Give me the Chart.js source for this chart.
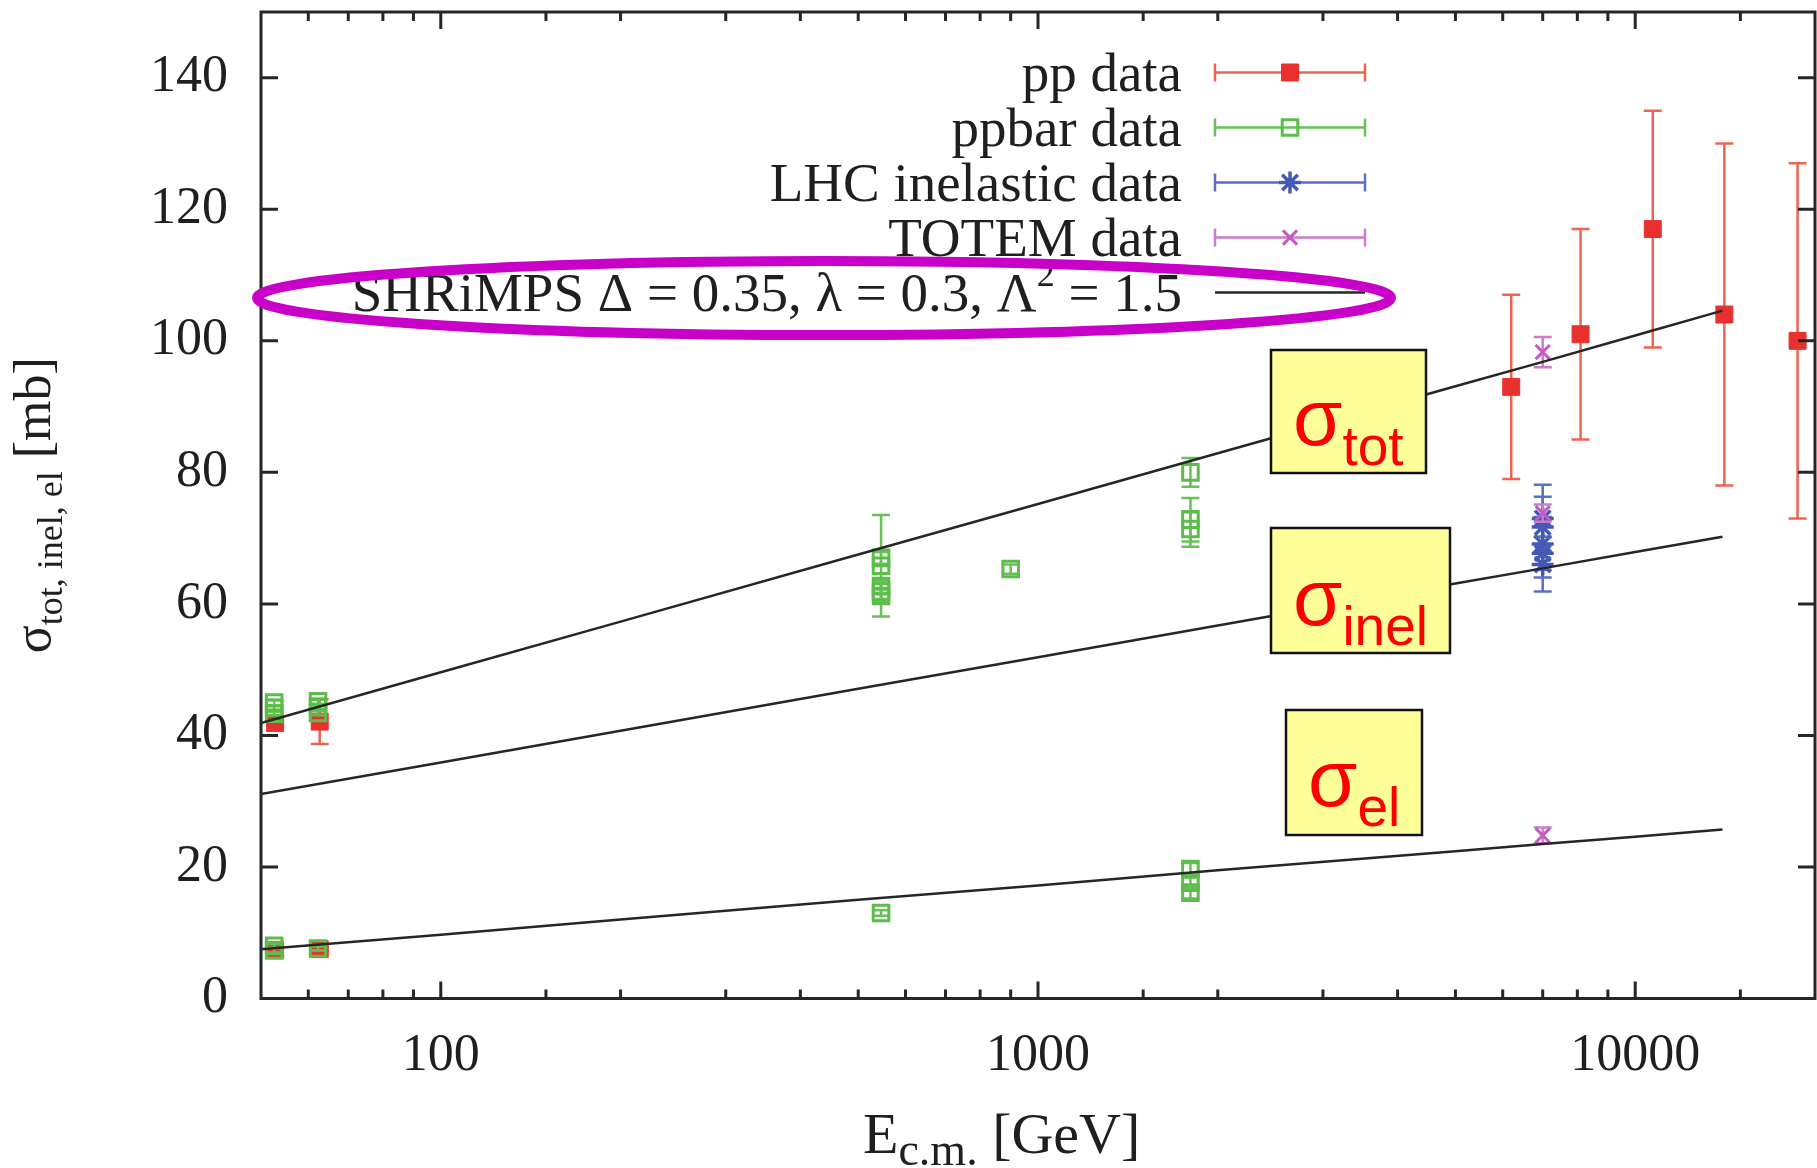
<!DOCTYPE html>
<html>
<head>
<meta charset="utf-8">
<title>SHRiMPS cross sections</title>
<script src="https://cdn.jsdelivr.net/npm/chart.js@4.4.1/dist/chart.umd.min.js"></script>
<style>
  html, body { margin: 0; padding: 0; background: #ffffff; }
  canvas { display: block; }
</style>
</head>
<body>
<canvas id="xsec" width="1817" height="1168"></canvas>
<script>
// ---- pp data: E_cm [GeV], cross section [mb], symmetric error [mb] ----
const ppEnergy = [52.8, 62.7, 52.8, 62.7, 6200, 8100, 10700, 14100, 18700];
const ppSigma  = [41.9, 42.1, 7.4, 7.5, 93, 101, 117, 104, 100];
const ppError  = [0.4, 3.4, 0.3, 0.3, 14, 16, 18, 26, 27];

// ---- ppbar data ----
const ppbarEnergy = [52.6, 52.6, 52.6, 62.3, 62.3, 62.3, 52.6, 52.6, 62.3,
                     546, 546, 546, 546, 546, 546, 900,
                     1800, 1800, 1800, 1800, 1800, 1800];
const ppbarSigma  = [45.0, 44.2, 43.3, 45.2, 44.3, 43.4, 8.0, 7.3, 7.6,
                     67.0, 65.8, 62.7, 61.9, 61.2, 13.0, 65.3,
                     80.0, 72.8, 71.4, 19.7, 17.6, 16.1];
const ppbarError  = [0.4, 0.3, 0.3, 0.4, 0.3, 0.3, 0.3, 0.3, 0.3,
                     0.9, 7.7, 1.0, 1.5, 1.0, 0.4, 0.7,
                     2.2, 3.3, 2.7, 0.9, 0.8, 0.9];

// ---- LHC inelastic data (7 TeV) ----
const lhcEnergy = [7000, 7000, 7000, 7000, 7000];
const lhcSigma  = [73.0, 71.7, 69.1, 67.7, 66.0];
const lhcError  = [5.1, 1.5, 7.2, 2.5, 2.0];

// ---- TOTEM data (7 TeV): total, inelastic, elastic ----
const totemEnergy = [7000, 7000, 7000];
const totemSigma  = [98.3, 73.8, 24.8];
const totemError  = [2.3, 1.3, 1.2];

// ---- SHRiMPS model curves ----
const modelEnergy = [50, 100, 200, 500, 1000, 2000, 5000, 7000, 10000, 14000];
const modelTot    = [41.9, 49.6, 57.3, 67.5, 75.2, 82.9, 93.1, 96.8, 100.8, 104.6];
const modelInel   = [31.1, 35.9, 40.7, 47.1, 51.9, 56.7, 63.1, 65.4, 67.9, 70.2];
const modelEl     = [7.5, 9.7, 12.0, 15.0, 17.2, 19.5, 22.4, 23.5, 24.6, 25.7];

// ---- axes ----
const yTickValues  = [0, 20, 40, 60, 80, 100, 120, 140];
const xTickLabels  = [100, 1000, 10000];

const legendOrder = ['pp data', 'ppbar data', 'LHC inelastic data', 'TOTEM data',
                     'SHRiMPS Δ = 0.35, λ = 0.3, Λ² = 1.5'];

const SERIF = '"Liberation Serif", "Times New Roman", serif';
const SANS  = '"Liberation Sans", Arial, sans-serif';
const INK   = '#1f1f1f';

const pts = (xs, ys) => xs.map((x, i) => ({ x: x, y: ys[i] }));

// vertical error bars with caps, drawn under each dataset's markers
const errorBars = {
  id: 'errorBars',
  beforeDatasetDraw(chart, args) {
    const ds = chart.data.datasets[args.index];
    if (!ds.errors) return;
    const xs = chart.scales.x, ys = chart.scales.y, ctx = chart.ctx;
    const cap = 9;
    ctx.save();
    ctx.strokeStyle = ds.errorColor;
    ctx.lineWidth = 2.5;
    ds.data.forEach((p, i) => {
      const e = ds.errors[i];
      const px = xs.getPixelForValue(p.x);
      const lo = ys.getPixelForValue(p.y - e);
      const hi = ys.getPixelForValue(p.y + e);
      ctx.beginPath();
      ctx.moveTo(px, lo); ctx.lineTo(px, hi);
      ctx.moveTo(px - cap, lo); ctx.lineTo(px + cap, lo);
      ctx.moveTo(px - cap, hi); ctx.lineTo(px + cap, hi);
      ctx.stroke();
    });
    ctx.restore();
  }
};

// draws a run of text pieces with individual sizes and vertical shifts
function richWidth(ctx, parts, family) {
  let w = 0;
  parts.forEach(p => { ctx.font = p.size + 'px ' + family; w += ctx.measureText(p.t).width; });
  return w;
}
function drawRich(ctx, parts, x, y, family, align) {
  const w = richWidth(ctx, parts, family);
  let cx = align === 'right' ? x - w : (align === 'center' ? x - w / 2 : x);
  ctx.textAlign = 'left';
  ctx.textBaseline = 'alphabetic';
  parts.forEach(p => {
    ctx.font = p.size + 'px ' + family;
    ctx.fillText(p.t, cx, y + (p.dy || 0));
    cx += ctx.measureText(p.t).width;
  });
}
function labelParts(label) {
  const i = label.indexOf('²');
  if (i < 0) return [{ t: label, size: 55 }];
  return [{ t: label.slice(0, i), size: 55 },
          { t: '2', size: 36, dy: -25 },
          { t: label.slice(i + 1), size: 55 }];
}

function drawMarker(ctx, ds, x, y) {
  const opts = { pointStyle: ds.pointStyle, radius: ds.pointRadius, borderWidth: ds.borderWidth, rotation: 0 };
  ctx.save();
  ctx.fillStyle = ds.backgroundColor;
  ctx.strokeStyle = ds.borderColor;
  ctx.lineWidth = ds.borderWidth;
  Chart.helpers.drawPoint(ctx, opts, x, y);
  ctx.restore();
}

// frame, inward ticks, legend, axis titles and the highlighted annotations
const decorations = {
  id: 'decorations',
  afterDraw(chart) {
    const ctx = chart.ctx, a = chart.chartArea;
    const xs = chart.scales.x, ys = chart.scales.y;

    // frame
    ctx.save();
    ctx.strokeStyle = '#262626';
    ctx.lineWidth = 3;
    ctx.strokeRect(a.left, a.top, a.right - a.left, a.bottom - a.top);

    // inward tick marks on all four sides
    ctx.beginPath();
    xs.ticks.forEach(t => {
      const px = xs.getPixelForValue(t.value);
      if (px <= a.left + 1 || px >= a.right - 1) return;
      const lg = Math.log10(t.value);
      const len = Math.abs(lg - Math.round(lg)) < 1e-9 ? 17 : 9;
      ctx.moveTo(px, a.bottom); ctx.lineTo(px, a.bottom - len);
      ctx.moveTo(px, a.top); ctx.lineTo(px, a.top + len);
    });
    ys.ticks.forEach(t => {
      const py = ys.getPixelForValue(t.value);
      if (py >= a.bottom - 1 || py <= a.top + 1) return;
      ctx.moveTo(a.left, py); ctx.lineTo(a.left + 17, py);
      ctx.moveTo(a.right, py); ctx.lineTo(a.right - 17, py);
    });
    ctx.stroke();

    // legend (key) in the upper part of the plot
    const keyRight = 1182, sampleL = 1215, sampleR = 1365, row0 = 72.5, rowStep = 55;
    legendOrder.forEach((label, r) => {
      const ds = chart.data.datasets.find(d => d.label === label);
      const ly = row0 + r * rowStep;
      ctx.fillStyle = INK;
      drawRich(ctx, labelParts(label), keyRight, ly + 18, SERIF, 'right');
      ctx.save();
      if (ds.errors) {
        ctx.strokeStyle = ds.errorColor;
        ctx.lineWidth = 2.5;
        ctx.beginPath();
        ctx.moveTo(sampleL, ly); ctx.lineTo(sampleR, ly);
        ctx.moveTo(sampleL, ly - 9); ctx.lineTo(sampleL, ly + 9);
        ctx.moveTo(sampleR, ly - 9); ctx.lineTo(sampleR, ly + 9);
        ctx.stroke();
        drawMarker(ctx, ds, (sampleL + sampleR) / 2, ly);
      } else {
        ctx.strokeStyle = ds.borderColor;
        ctx.lineWidth = ds.borderWidth;
        ctx.beginPath();
        ctx.moveTo(sampleL, ly); ctx.lineTo(sampleR, ly);
        ctx.stroke();
      }
      ctx.restore();
    });

    // axis titles
    ctx.fillStyle = INK;
    drawRich(ctx, [{ t: 'E', size: 58 }, { t: 'c.m.', size: 46, dy: 12 }, { t: ' [GeV]', size: 58 }],
             863, 1153, SERIF, 'left');
    ctx.save();
    ctx.translate(50, (a.top + a.bottom) / 2);
    ctx.rotate(-Math.PI / 2);
    drawRich(ctx, [{ t: 'σ', size: 52 }, { t: 'tot, inel, el', size: 36, dy: 12 }, { t: ' [mb]', size: 52 }],
             0, 0, SERIF, 'center');
    ctx.restore();

    // highlighted model entry
    ctx.strokeStyle = '#c800c8';
    ctx.lineWidth = 10;
    ctx.beginPath();
    ctx.ellipse(824, 298, 567, 37, 0, 0, Math.PI * 2);
    ctx.stroke();

    // labelled boxes for the three cross sections
    const boxes = [
      { x: 1271, y: 350, w: 155, h: 123, sx: 1293, sb: 445, sub: 'tot' },
      { x: 1271, y: 528, w: 179, h: 125, sx: 1293, sb: 625, sub: 'inel' },
      { x: 1286, y: 710, w: 136, h: 125, sx: 1308, sb: 806, sub: 'el' }
    ];
    boxes.forEach(b => {
      ctx.fillStyle = '#ffff99';
      ctx.fillRect(b.x, b.y, b.w, b.h);
      ctx.strokeStyle = '#111111';
      ctx.lineWidth = 2.5;
      ctx.strokeRect(b.x, b.y, b.w, b.h);
      ctx.fillStyle = '#ff0000';
      drawRich(ctx, [{ t: 'σ', size: 80 }, { t: b.sub, size: 55, dy: 20 }], b.sx, b.sb, SANS, 'left');
    });
    ctx.restore();
  }
};

const chart = new Chart(document.getElementById('xsec'), {
  type: 'scatter',
  data: {
    datasets: [
      { label: 'SHRiMPS Δ = 0.35, λ = 0.3, Λ² = 1.5', data: pts(modelEnergy, modelTot),
        showLine: true, pointRadius: 0, borderColor: '#262626', borderWidth: 2.5, order: 0 },
      { label: 'SHRiMPS inelastic', data: pts(modelEnergy, modelInel),
        showLine: true, pointRadius: 0, borderColor: '#262626', borderWidth: 2.5, order: 0 },
      { label: 'SHRiMPS elastic', data: pts(modelEnergy, modelEl),
        showLine: true, pointRadius: 0, borderColor: '#262626', borderWidth: 2.5, order: 0 },
      { label: 'TOTEM data', data: pts(totemEnergy, totemSigma), errors: totemError,
        errorColor: '#cc7ccb', pointStyle: 'crossRot', pointRadius: 10, borderWidth: 3,
        borderColor: '#c25cc0', backgroundColor: 'rgba(0,0,0,0)', order: 1 },
      { label: 'LHC inelastic data', data: pts(lhcEnergy, lhcSigma), errors: lhcError,
        errorColor: '#5d6fc4', pointStyle: 'star', pointRadius: 11, borderWidth: 3.5,
        borderColor: '#4459b4', backgroundColor: 'rgba(0,0,0,0)', order: 2 },
      { label: 'ppbar data', data: pts(ppbarEnergy, ppbarSigma), errors: ppbarError,
        errorColor: '#66c255', pointStyle: 'rect', pointRadius: 11, borderWidth: 3,
        borderColor: '#5cbd4b', backgroundColor: 'rgba(0,0,0,0)', order: 3 },
      { label: 'pp data', data: pts(ppEnergy, ppSigma), errors: ppError,
        errorColor: '#ef6450', pointStyle: 'rect', pointRadius: 12, borderWidth: 1,
        borderColor: '#e8312e', backgroundColor: '#e8312e', order: 4 }
    ]
  },
  options: {
    responsive: false,
    animation: false,
    devicePixelRatio: 1,
    layout: { autoPadding: false, padding: { top: 12, right: 2, left: 0, bottom: 0 } },
    plugins: { legend: { display: false }, tooltip: { enabled: false } },
    elements: { line: { tension: 0, fill: false } },
    scales: {
      x: {
        type: 'logarithmic', min: 50, max: 20000, position: 'bottom',
        grid: { display: false, drawTicks: false }, border: { display: false },
        ticks: {
          autoSkip: false, maxRotation: 0, padding: 27, color: INK,
          font: { family: SERIF, size: 52 },
          callback: v => xTickLabels.includes(Math.round(v)) ? String(Math.round(v)) : ''
        },
        afterFit(s) { s.height = 169.5; s.paddingLeft = 0; s.paddingRight = 0; }
      },
      y: {
        type: 'linear', min: 0, max: 150,
        grid: { display: false, drawTicks: false }, border: { display: false },
        ticks: { padding: 33, color: INK, font: { family: SERIF, size: 52 } },
        afterBuildTicks(s) { s.ticks = yTickValues.map(v => ({ value: v })); },
        afterFit(s) { s.width = 261; s.paddingTop = 0; s.paddingBottom = 0; }
      }
    }
  },
  plugins: [errorBars, decorations]
});
</script>
</body>
</html>
